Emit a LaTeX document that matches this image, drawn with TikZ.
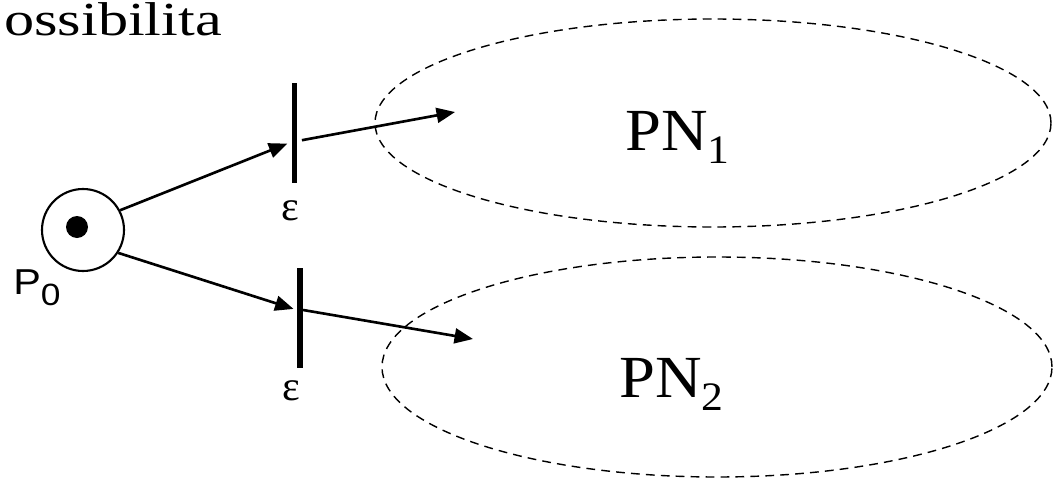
\documentclass[tikz,border=0pt]{standalone}
\usepackage{fontspec}
\setmainfont{Liberation Serif}
\newfontfamily\arialfont{Liberation Sans}
\usepackage{graphicx}
\usepackage{tikz}
\usetikzlibrary{arrows.meta, positioning, shapes.geometric, calc}

\newcommand{\lowsub}[3]{\raisebox{-#1}{\fontsize{#2}{#2}\selectfont #3}}

\begin{document}
\begin{tikzpicture}[
  place/.style={circle, draw, line width=1.2pt, minimum size=1.64cm, inner sep=0pt},
  token/.style={circle, fill, minimum size=0.44cm, inner sep=0pt},
  trans/.style={rectangle, fill, minimum width=0.11cm, minimum height=2cm, inner sep=0pt},
  net/.style={ellipse, draw, dash pattern=on 5pt off 3.5pt, line width=0.8pt, inner sep=0pt},
  arr/.style={-{Triangle[length=10.5pt, width=8.5pt]}, line width=1.5pt},
  lbl/.style={inner sep=0pt, anchor=base west, font=\fontsize{34}{40}\selectfont},
  eps/.style={inner sep=0pt, font=\fontsize{24}{28}\selectfont}
]
\useasboundingbox (0,0) rectangle (21.06,9.6);

\node[inner sep=0pt, anchor=base west, font=\fontsize{27}{32}\selectfont] (title) at (0.08,8.9) {\scalebox{1.27}[1]{ossibilita}};

% sub-nets
\node[net, minimum width=13.52cm, minimum height=4.16cm] (pn1) at (14.26,7.14) {};
\node[net, minimum width=13.4cm, minimum height=4.4cm]   (pn2) at (14.34,2.26) {};
\node[lbl] (pn1txt) at (12.5,6.6)  {\scalebox{1.08}[1]{PN\lowsub{7.8pt}{23}{1}}};
\node[lbl] (pn2txt) at (12.38,1.66) {\scalebox{1.08}[1]{PN\lowsub{7.8pt}{23}{2}}};

% place and transitions
\node[place] (p0) at (1.66,5.0) {};
\node[token] (tok) at (1.54,5.06) {};
\node[inner sep=0pt, anchor=base west, font=\arialfont\fontsize{20.5}{24}\selectfont] (p0lbl) at (0.26,3.72) {\scalebox{1.15}[1]{P\lowsub{6.3pt}{17.5}{0}}};
\node[trans] (t1) at (5.89,6.94) {};
\node[trans] (t2) at (6.0,3.24)  {};
\node[eps] (e1) at (5.8,5.38)  {ε};
\node[eps] (e2) at (5.82,1.78) {ε};

\coordinate (out1) at (9.10,7.36);
\coordinate (out2) at (9.46,2.82);

\draw[arr, shorten >=2.5pt] (p0.28)  -- ([yshift=-0.18cm]t1.west);
\draw[arr, shorten >=2pt]   (p0.-33) -- ([yshift=0.16cm]t2.west);
\draw[arr, shorten <=2.5pt] ([yshift=-0.16cm]t1.east) -- (out1);
\draw[arr] ([yshift=0.16cm]t2.east) -- (out2);
\end{tikzpicture}
\end{document}
